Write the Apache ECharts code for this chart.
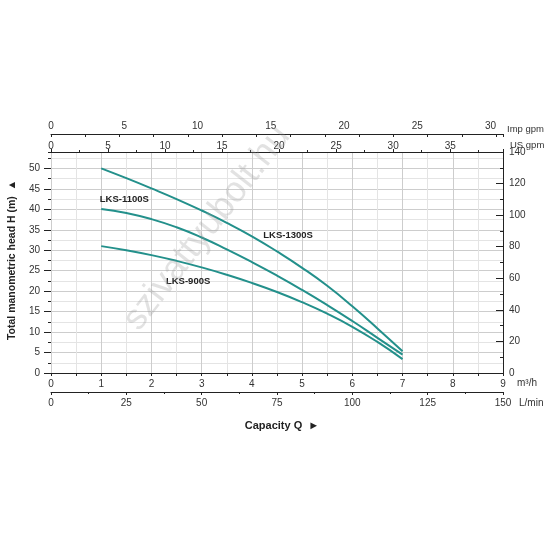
<!DOCTYPE html>
<html>
<head>
<meta charset="utf-8">
<script src="https://cdn.jsdelivr.net/npm/echarts@6/dist/echarts.min.js"></script>
<style>
html,body{margin:0;padding:0;background:#fff;}
#chart{width:545px;height:546px;}
</style>
</head>
<body>
<div id="chart"></div>
<script>
// Capacity Q (m³/h)
const capacityQ = [1, 1.5, 2, 2.5, 3, 3.5, 4, 4.5, 5, 5.5, 6, 6.5, 7];
// Total manometric head H (m)
const headLKS1300S = [50.0, 47.6, 45.1, 42.5, 39.7, 36.7, 33.4, 29.7, 25.7, 21.3, 16.3, 10.9, 5.3];
const headLKS1100S = [40.1, 39.1, 37.6, 35.6, 33.1, 30.2, 27.1, 23.8, 20.3, 16.6, 12.7, 8.6, 4.5];
const headLKS900S  = [31.0, 30.0, 28.8, 27.4, 25.8, 24.0, 22.0, 19.8, 17.3, 14.5, 11.3, 7.6, 3.4];

const seriesNames = ['LKS-1300S', 'LKS-1100S', 'LKS-900S'];
// label anchors (Q, H) for curve names
const labelQ = [4.72, 1.46, 2.73];
const labelH = [33.6, 42.4, 22.4];

// tick labels
const ticksM3h = [0, 1, 2, 3, 4, 5, 6, 7, 8, 9];
const ticksLmin = [0, 25, 50, 75, 100, 125, 150];
const ticksUSgpm = [0, 5, 10, 15, 20, 25, 30, 35];
const ticksImpgpm = [0, 5, 10, 15, 20, 25, 30];
const ticksHead = [0, 5, 10, 15, 20, 25, 30, 35, 40, 45, 50];
const ticksRight = [0, 20, 40, 60, 80, 100, 120, 140];

const headMax = 54;          // top of the plot in metres
const usGpmMax = 39.63;      // 9 m³/h in US gpm
const impGpmMax = 33.0;      // 9 m³/h in Imp gpm (tick scale)
const impLabelMax = 30.85;   // label scale of the printed Imp gpm row

const teal = '#23908b';
const axisColor = '#222';
const FONT = 'Liberation Sans, Arial, sans-serif';
const labelStyle = {fontSize: 10, color: '#333', fontFamily: FONT};

const chart = echarts.init(document.getElementById('chart'), null, {renderer: 'canvas'});

function pairs(ys) { return capacityQ.map((q, i) => [q, ys[i]]); }
const heads = [headLKS1300S, headLKS1100S, headLKS900S];

const series = seriesNames.map((name, i) => ({
  name: name,
  type: 'line',
  xAxisIndex: 0,
  yAxisIndex: 0,
  data: pairs(heads[i]),
  smooth: 0.5,
  showSymbol: false,
  symbol: 'none',
  lineStyle: {color: teal, width: 2},
  z: 5,
  markPoint: {
    symbol: 'circle',
    symbolSize: 0,
    silent: true,
    label: {
      show: true, position: 'inside', formatter: name,
      fontSize: 9.5, fontWeight: 'bold', color: '#222', fontFamily: FONT
    },
    data: [{coord: [labelQ[i], labelH[i]]}]
  }
}));

const option = {
  backgroundColor: '#fff',
  animation: false,
  grid: {left: 51, right: 42, top: 152, bottom: 173, containLabel: false},
  xAxis: [
    {
      type: 'value', position: 'bottom', min: ticksM3h[0], max: ticksM3h[ticksM3h.length - 1],
      interval: ticksM3h[1] - ticksM3h[0], z: 3,
      axisLine: {show: true, onZero: false, lineStyle: {color: axisColor, width: 1}},
      axisTick: {show: true, length: 3, lineStyle: {color: axisColor}},
      minorTick: {show: true, splitNumber: 2, length: 3, lineStyle: {color: axisColor}},
      splitLine: {show: true, lineStyle: {color: '#cdcdcd', width: 1}},
      minorSplitLine: {show: true, lineStyle: {color: '#e4e4e4', width: 1}},
      axisLabel: Object.assign({margin: 6}, labelStyle)
    },
    {
      type: 'value', position: 'bottom', offset: 19, min: ticksLmin[0], max: ticksLmin[ticksLmin.length - 1],
      interval: ticksLmin[1] - ticksLmin[0],
      axisLine: {show: true, onZero: false, lineStyle: {color: axisColor, width: 1}},
      axisTick: {show: true, length: 3, lineStyle: {color: axisColor}},
      minorTick: {show: true, splitNumber: 2, length: 2, lineStyle: {color: axisColor}},
      splitLine: {show: false},
      axisLabel: Object.assign({margin: 6}, labelStyle)
    },
    {
      type: 'value', position: 'top', min: ticksUSgpm[0], max: usGpmMax,
      interval: ticksUSgpm[1] - ticksUSgpm[0], z: 3,
      axisLine: {show: true, onZero: false, lineStyle: {color: axisColor, width: 1}},
      axisTick: {show: true, length: 3, lineStyle: {color: axisColor}},
      minorTick: {show: true, splitNumber: 2, length: 2, lineStyle: {color: axisColor}},
      splitLine: {show: false},
      axisLabel: Object.assign({margin: 1, showMaxLabel: false,
        formatter: v => (ticksUSgpm.indexOf(v) >= 0 ? String(v) : '')}, labelStyle)
    },
    {
      type: 'value', position: 'top', offset: 18, min: 0, max: impGpmMax, interval: 2.5,
      axisLine: {show: true, onZero: false, lineStyle: {color: axisColor, width: 1}},
      axisTick: {show: true, inside: true, length: 3, lineStyle: {color: axisColor}},
      splitLine: {show: false},
      axisLabel: {show: false}
    },
    {
      type: 'value', position: 'top', offset: 18, min: ticksImpgpm[0], max: impLabelMax,
      interval: ticksImpgpm[1] - ticksImpgpm[0],
      axisLine: {show: false}, axisTick: {show: false}, splitLine: {show: false},
      axisLabel: Object.assign({margin: 3, showMaxLabel: false,
        formatter: v => (ticksImpgpm.indexOf(v) >= 0 ? String(v) : '')}, labelStyle)
    }
  ],
  yAxis: [
    {
      type: 'value', position: 'left', min: ticksHead[0], max: headMax,
      interval: ticksHead[1] - ticksHead[0], z: 2,
      axisLine: {show: true, onZero: false, lineStyle: {color: axisColor, width: 1}},
      axisTick: {show: true, length: 7, lineStyle: {color: axisColor}},
      splitLine: {show: true, lineStyle: {color: '#cdcdcd', width: 1}},
      axisLabel: Object.assign({margin: 11, showMaxLabel: false,
        formatter: v => (ticksHead.indexOf(v) >= 0 ? String(v) : '')}, labelStyle)
    },
    {
      type: 'value', position: 'right', min: ticksRight[0], max: ticksRight[ticksRight.length - 1],
      interval: ticksRight[1] - ticksRight[0], z: 3,
      axisLine: {show: true, onZero: false, lineStyle: {color: axisColor, width: 1}},
      axisTick: {show: true, inside: true, length: 7, lineStyle: {color: axisColor}},
      minorTick: {show: true, splitNumber: 2, length: 3, lineStyle: {color: axisColor}},
      splitLine: {show: false},
      axisLabel: Object.assign({margin: 6}, labelStyle)
    },
    {
      type: 'value', position: 'left', min: 0, max: headMax, interval: 2.5, z: 1,
      axisLine: {show: false},
      axisTick: {show: true, length: 3, lineStyle: {color: axisColor}},
      splitLine: {show: true, lineStyle: {color: '#e4e4e4', width: 1}},
      axisLabel: {show: false}
    }
  ],
  graphic: [
    {type: 'text', left: 507, top: 124, style: {text: 'Imp gpm', fontSize: 9.5, fill: '#333', fontFamily: FONT}},
    {type: 'text', left: 510, top: 140, style: {text: 'US gpm', fontSize: 9.5, fill: '#333', fontFamily: FONT}},
    {type: 'text', left: 517, top: 378, style: {text: 'm³/h', fontSize: 10, fill: '#333', fontFamily: FONT}},
    {type: 'text', left: 519, top: 398, style: {text: 'L/min', fontSize: 10, fill: '#333', fontFamily: FONT}},
    {type: 'text', x: 282, y: 426, style: {text: 'Capacity Q  ►', fontSize: 11, fontWeight: 'bold', fill: '#222', textAlign: 'center', textVerticalAlign: 'middle', fontFamily: FONT}},
    {type: 'text', x: 12, y: 260, rotation: Math.PI / 2, style: {text: 'Total manometric head H (m)  ▲', fontSize: 10.5, fontWeight: 'bold', fill: '#222', textAlign: 'center', textVerticalAlign: 'middle', fontFamily: FONT}},
    {type: 'text', x: 207, y: 228, rotation: 0.91, z: 100, silent: true, style: {text: 'szivattyubolt.hu', fontSize: 36, fill: 'rgba(150,150,150,0.28)', textAlign: 'center', textVerticalAlign: 'middle', fontFamily: FONT}}
  ],
  series: series
};

chart.setOption(option);
</script>
</body>
</html>
